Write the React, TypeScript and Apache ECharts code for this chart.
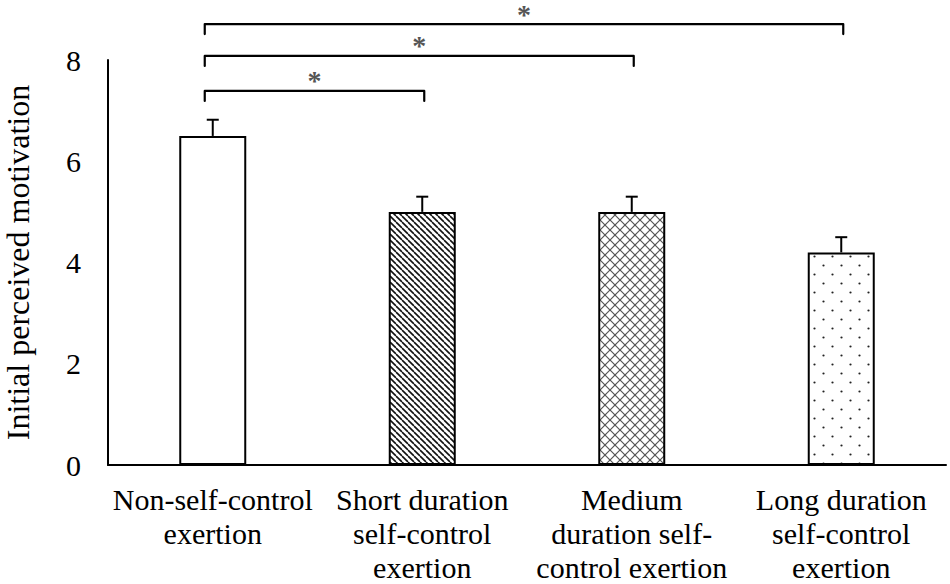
import React, { useEffect, useRef } from "react";
import * as echarts from "echarts";

const categories = [
  "Non-self-control\nexertion",
  "Short duration\nself-control\nexertion",
  "Medium\nduration self-\ncontrol exertion",
  "Long duration\nself-control\nexertion",
];
const means = [6.5, 5.0, 5.0, 4.2];
const errors = [0.32, 0.3, 0.3, 0.3];
const yMin = 0;
const yMax = 8;
const yStep = 2;
const yName = "Initial perceived motivation";
const bracketFrom = [0, 0, 0];
const bracketTo = [1, 2, 3];
const bracketLevel = [7.39, 8.08, 8.71];
const bracketMark = ["*", "*", "*"];

const FONT = "'Times New Roman', 'Liberation Serif', 'DejaVu Serif', serif";

function makeTile(w: number, h: number, draw: (ctx: CanvasRenderingContext2D) => void) {
  const c = document.createElement("canvas");
  c.width = w;
  c.height = h;
  const ctx = c.getContext("2d") as CanvasRenderingContext2D;
  ctx.fillStyle = "#ffffff";
  ctx.fillRect(0, 0, w, h);
  draw(ctx);
  return { image: c, repeat: "repeat", imageWidth: w, imageHeight: h } as any;
}

function buildPatterns() {
  const plain = "#ffffff";
  const diag = makeTile(6, 6, (ctx) => {
    ctx.strokeStyle = "#111";
    ctx.lineWidth = 1.6;
    for (const k of [-6, 0, 6]) {
      ctx.beginPath();
      ctx.moveTo(k, 0);
      ctx.lineTo(k + 6, 6);
      ctx.stroke();
    }
  });
  const cross = makeTile(10, 10, (ctx) => {
    ctx.strokeStyle = "#555";
    ctx.lineWidth = 1.2;
    for (const k of [-10, 0, 10]) {
      ctx.beginPath();
      ctx.moveTo(k, 0);
      ctx.lineTo(k + 10, 10);
      ctx.stroke();
      ctx.beginPath();
      ctx.moveTo(k, 10);
      ctx.lineTo(k + 10, 0);
      ctx.stroke();
    }
  });
  const dots = makeTile(18, 18, (ctx) => {
    ctx.fillStyle = "#222";
    for (const [x, y] of [[4.5, 4.5], [13.5, 13.5]]) {
      ctx.beginPath();
      ctx.arc(x, y, 1.1, 0, Math.PI * 2);
      ctx.fill();
    }
  });
  return [plain, diag, cross, dots];
}

export default function App() {
  const ref = useRef<HTMLDivElement>(null);
  useEffect(() => {
    if (!ref.current) return;
    const chart = echarts.init(ref.current, undefined, { renderer: "svg" });
    const fills = buildPatterns();
    const option: any = {
      animation: false,
      backgroundColor: "#ffffff",
      textStyle: { fontFamily: FONT },
      grid: {
        left: 108,
        right: 4,
        top: 60,
        bottom: 119,
        containLabel: false,
        outerBoundsMode: "none",
      },
      xAxis: {
        type: "category",
        data: categories,
        axisLine: { show: true, lineStyle: { color: "#000", width: 2 } },
        axisTick: { show: false },
        axisLabel: {
          interval: 0,
          fontSize: 30,
          lineHeight: 34,
          margin: 17,
          color: "#000",
          fontFamily: FONT,
        },
        splitLine: { show: false },
      },
      yAxis: {
        type: "value",
        min: yMin,
        max: yMax,
        interval: yStep,
        axisLine: { show: true, lineStyle: { color: "#000", width: 2 } },
        axisTick: { show: false },
        splitLine: { show: false },
        axisLabel: { fontSize: 30, color: "#000", fontFamily: FONT, margin: 27 },
        name: yName,
        nameLocation: "middle",
        nameGap: 74,
        nameTextStyle: { fontSize: 32, color: "#000", fontFamily: FONT },
      },
      series: [
        {
          type: "bar",
          barWidth: 67,
          data: means.map((m, i) => ({
            value: m,
            itemStyle: { color: fills[i], borderColor: "#000", borderWidth: 2 },
          })),
          z: 2,
        },
        {
          type: "custom",
          z: 3,
          encode: { x: 0, y: [1, 2] },
          data: means.map((m, i) => [i, m, m + errors[i]]),
          renderItem: (params: any, api: any) => {
            const i = api.value(0);
            const bot = api.coord([i, api.value(1)]);
            const top = api.coord([i, api.value(2)]);
            return {
              type: "group",
              children: [
                {
                  type: "line",
                  shape: { x1: bot[0], y1: bot[1], x2: top[0], y2: top[1] },
                  style: { stroke: "#000", lineWidth: 2 },
                },
                {
                  type: "line",
                  shape: { x1: top[0] - 6, y1: top[1], x2: top[0] + 6, y2: top[1] },
                  style: { stroke: "#000", lineWidth: 2 },
                },
              ],
            };
          },
        },
        {
          type: "custom",
          z: 3,
          clip: false,
          encode: { x: [0, 1], y: 2 },
          data: bracketFrom.map((f, k) => [f, bracketTo[k], bracketLevel[k], k]),
          renderItem: (params: any, api: any) => {
            const a = api.coord([api.value(0), api.value(2)]);
            const b = api.coord([api.value(1), api.value(2)]);
            const k = api.value(3);
            const x1 = a[0] - 8;
            const x2 = b[0] + 2;
            const y = a[1];
            return {
              type: "group",
              children: [
                {
                  type: "polyline",
                  shape: { points: [[x1, y + 10], [x1, y], [x2, y], [x2, y + 10]] },
                  style: { stroke: "#000", lineWidth: 2.2, fill: "none", lineJoin: "round", lineCap: "round" },
                },
                {
                  type: "text",
                  x: (x1 + x2) / 2,
                  y: y - 24,
                  style: {
                    text: bracketMark[k],
                    fontSize: 28,
                    fontWeight: "bold",
                    fontFamily: FONT,
                    fill: "#555555",
                    align: "center",
                    verticalAlign: "top",
                  },
                },
              ],
            };
          },
        },
      ],
    };
    chart.setOption(option);
    return () => chart.dispose();
  }, []);
  return (
    <div
      ref={ref}
      style={{ position: "fixed", left: 0, top: 0, width: 950, height: 584, background: "#fff" }}
    />
  );
}
